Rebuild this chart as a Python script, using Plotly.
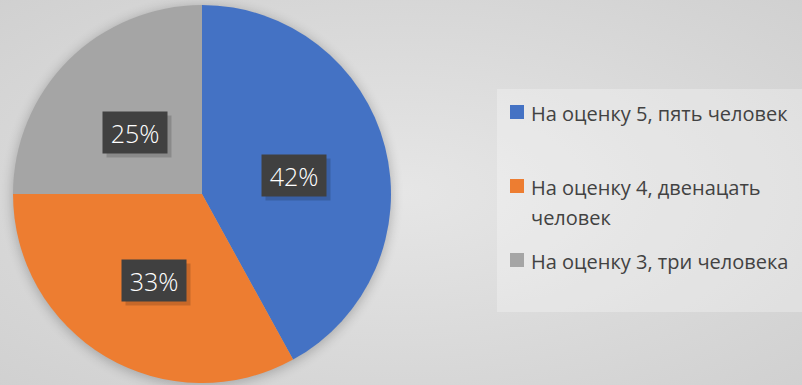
import base64
import math
import textwrap

import plotly.graph_objects as go

# Survey results: share of pupils by grade
labels = ["На оценку 5, пять человек",
          "На оценку 4, двенацать человек",
          "На оценку 3, три человека"]
shares = [42, 33, 25]
colors = ["#4472C4", "#ED7D31", "#A5A5A5"]

W, H = 802, 385
CX, CY, R = 202, 194, 189          # pie centre and radius in pixels
LABEL_R = 0.5                       # data labels sit half way out
LABEL_DY = 5                        # labels are nudged slightly downwards


def px(x):
    return x / W


def py(y):
    return 1 - y / H


# page background: soft radial gradient plus a shadow under the pie
svg = f'''<svg xmlns="http://www.w3.org/2000/svg" width="{W}" height="{H}" viewBox="0 0 {W} {H}">
<defs>
<radialGradient id="g" cx="50%" cy="50%" r="72%">
<stop offset="0" stop-color="#e6e6e6"/><stop offset="1" stop-color="#d0d0d0"/>
</radialGradient>
<filter id="b" x="-30%" y="-30%" width="160%" height="160%"><feGaussianBlur stdDeviation="6"/></filter>
</defs>
<rect width="{W}" height="{H}" fill="url(#g)"/>
<circle cx="{CX}" cy="{CY + 2}" r="{R + 1}" fill="#000" opacity="0.22" filter="url(#b)"/>
</svg>'''
bg_uri = "data:image/svg+xml;base64," + base64.b64encode(svg.encode()).decode()

fig = go.Figure(go.Pie(
    labels=labels,
    values=shares,
    marker=dict(colors=colors, line=dict(width=0)),
    sort=False,
    direction="clockwise",
    rotation=0,
    textinfo="none",
    showlegend=False,
    domain=dict(x=[px(CX - R), px(CX + R)], y=[py(CY + R), py(CY - R)]),
))

annotations = []
shapes = []

# value labels in dark boxes at the middle of each slice
total = sum(shares)
cum = 0
for v in shares:
    mid = math.radians((cum + v / 2) / total * 360)
    cum += v
    lx = CX + LABEL_R * R * math.sin(mid)
    ly = CY - LABEL_R * R * math.cos(mid) + LABEL_DY
    # drop shadow
    annotations.append(dict(
        x=px(lx + 4), y=py(ly + 4), xref="paper", yref="paper",
        xanchor="center", yanchor="middle",
        text=" ", showarrow=False, width=64, height=41, borderpad=0,
        bgcolor="rgba(0,0,0,0.16)", font=dict(size=25)))
    annotations.append(dict(
        x=px(lx), y=py(ly), xref="paper", yref="paper",
        xanchor="center", yanchor="middle",
        text=f"{v}%", showarrow=False, width=64, height=41, borderpad=0,
        bgcolor="#404040",
        font=dict(family="Open Sans", size=25, color="#ffffff", weight=300)))

# legend panel
shapes.append(dict(type="rect", xref="paper", yref="paper",
                   x0=px(497), x1=1.01, y0=py(312), y1=py(89),
                   fillcolor="rgba(255,255,255,0.28)", line=dict(width=0),
                   layer="below"))

LEG_X, LEG_Y0, LEG_STEP, LINE_H = 510, 112, 74, 30
for i, (lab, col) in enumerate(zip(labels, colors)):
    yc = LEG_Y0 + i * LEG_STEP
    shapes.append(dict(type="rect", xref="paper", yref="paper",
                       x0=px(LEG_X), x1=px(LEG_X + 14),
                       y0=py(yc + 7), y1=py(yc - 7),
                       fillcolor=col, line=dict(width=0)))
    for j, line in enumerate(textwrap.wrap(lab, 26)):
        annotations.append(dict(
            x=px(LEG_X + 19), y=py(yc + j * LINE_H + 1), xref="paper", yref="paper",
            xanchor="left", yanchor="middle", showarrow=False, text=line,
            font=dict(family="Open Sans", size=20, color="#424242")))

fig.update_layout(
    width=W, height=H,
    margin=dict(l=0, r=0, t=0, b=0),
    paper_bgcolor="#dcdcdc",
    plot_bgcolor="rgba(0,0,0,0)",
    images=[dict(source=bg_uri, xref="paper", yref="paper", x=0, y=1,
                 sizex=1, sizey=1, sizing="stretch", xanchor="left",
                 yanchor="top", layer="below")],
    shapes=shapes,
    annotations=annotations,
)

fig.write_html("out.html")
